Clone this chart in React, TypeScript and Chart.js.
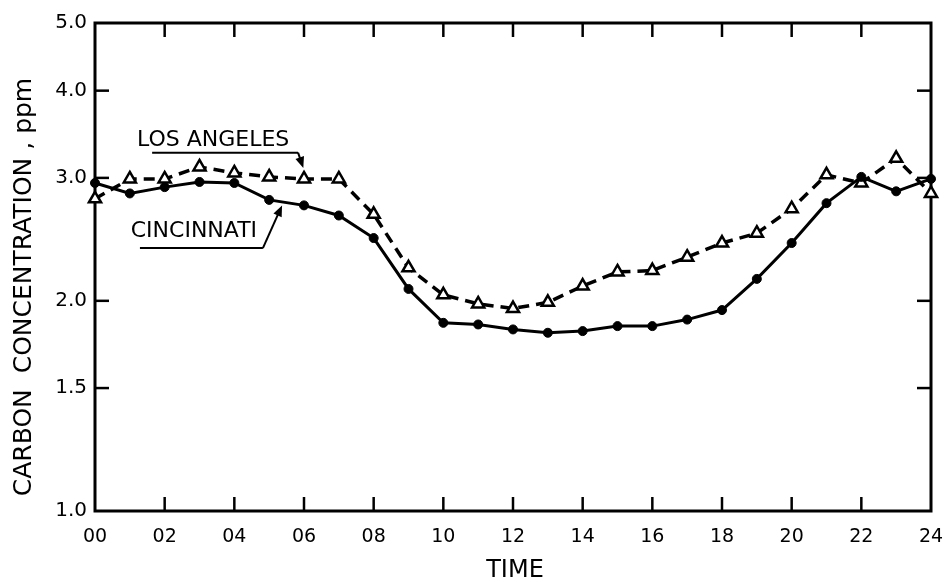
import React, { useEffect, useRef } from 'react';
import { Chart, registerables } from 'chart.js';

Chart.register(...registerables);

const HOURS = [0, 1, 2, 3, 4, 5, 6, 7, 8, 9, 10, 11, 12, 13, 14, 15, 16, 17, 18, 19, 20, 21, 22, 23, 24];
const CINCINNATI = [2.95, 2.85, 2.91, 2.96, 2.95, 2.79, 2.74, 2.65, 2.46, 2.08, 1.86, 1.85, 1.82, 1.8, 1.81, 1.84, 1.84, 1.88, 1.94, 2.15, 2.42, 2.76, 3.01, 2.87, 2.99];
const LOS_ANGELES = [2.8, 2.99, 2.99, 3.11, 3.05, 3.01, 2.99, 2.99, 2.66, 2.23, 2.04, 1.98, 1.95, 1.99, 2.1, 2.2, 2.21, 2.31, 2.42, 2.5, 2.71, 3.03, 2.95, 3.2, 2.85];
const X_TICKS = [0, 2, 4, 6, 8, 10, 12, 14, 16, 18, 20, 22, 24];
const Y_TICKS = [1.0, 1.5, 2.0, 3.0, 4.0, 5.0];

const Y_TITLE = 'CARBON  CONCENTRATION , ppm';
const X_TITLE = 'TIME';

// annotation anchors in data coordinates [hour, value]
const LA_LABEL = { text: 'LOS ANGELES', at: [3.39, 3.33] };
const LA_LEADER = [[1.64, 3.26], [5.83, 3.26], [5.95, 3.16]];
const LA_TIP = [5.98, 3.1];
const CIN_LABEL = { text: 'CINCINNATI', at: [2.84, 2.47] };
const CIN_LEADER = [[1.29, 2.38], [4.82, 2.38]];
const CIN_TIP = [5.37, 2.74];

const FONT = '"DejaVu Sans", sans-serif';

function arrow(ctx: CanvasRenderingContext2D, fx: number, fy: number, tx: number, ty: number) {
  const ang = Math.atan2(ty - fy, tx - fx);
  const len = 11;
  const w = 4.5;
  ctx.beginPath();
  ctx.moveTo(fx, fy);
  ctx.lineTo(tx - Math.cos(ang) * len * 0.8, ty - Math.sin(ang) * len * 0.8);
  ctx.stroke();
  ctx.beginPath();
  ctx.moveTo(tx, ty);
  ctx.lineTo(tx - Math.cos(ang) * len - Math.sin(ang) * w, ty - Math.sin(ang) * len + Math.cos(ang) * w);
  ctx.lineTo(tx - Math.cos(ang) * len + Math.sin(ang) * w, ty - Math.sin(ang) * len - Math.cos(ang) * w);
  ctx.closePath();
  ctx.fill();
}

const framePlugin = {
  id: 'frame',
  beforeDatasetsDraw(chart: any) {
    const { ctx, chartArea: a, scales } = chart;
    ctx.save();
    ctx.strokeStyle = '#000';
    ctx.lineWidth = 3;
    ctx.strokeRect(a.left, a.top, a.right - a.left, a.bottom - a.top);
    ctx.lineWidth = 2.5;
    const TL = 14;
    const seg = (x1: number, y1: number, x2: number, y2: number) => {
      ctx.beginPath();
      ctx.moveTo(x1, y1);
      ctx.lineTo(x2, y2);
      ctx.stroke();
    };
    X_TICKS.slice(1, -1).forEach((v) => {
      const x = scales.x.getPixelForValue(v);
      seg(x, a.top, x, a.top + TL);
      seg(x, a.bottom, x, a.bottom - TL);
    });
    Y_TICKS.slice(1, -1).forEach((v) => {
      const y = scales.y.getPixelForValue(v);
      seg(a.left, y, a.left + TL, y);
      seg(a.right, y, a.right - TL, y);
    });
    ctx.restore();
  },
  afterDraw(chart: any) {
    const { ctx, chartArea: a, scales } = chart;
    const px = (p: number[]) => [scales.x.getPixelForValue(p[0]), scales.y.getPixelForValue(p[1])];
    ctx.save();
    ctx.fillStyle = '#000';
    ctx.strokeStyle = '#000';
    ctx.lineWidth = 2;

    // annotation labels
    ctx.font = `22px ${FONT}`;
    ctx.textAlign = 'center';
    ctx.textBaseline = 'alphabetic';
    for (const lab of [LA_LABEL, CIN_LABEL]) {
      const [x, y] = px(lab.at);
      ctx.fillText(lab.text, x, y);
    }
    // LA leader
    const la = LA_LEADER.map(px);
    ctx.beginPath();
    ctx.moveTo(la[0][0], la[0][1]);
    ctx.lineTo(la[1][0], la[1][1]);
    ctx.stroke();
    const lt = px(LA_TIP);
    arrow(ctx, la[1][0], la[1][1], lt[0], lt[1]);
    // Cincinnati leader
    const cl = CIN_LEADER.map(px);
    ctx.beginPath();
    ctx.moveTo(cl[0][0], cl[0][1]);
    ctx.lineTo(cl[1][0], cl[1][1]);
    ctx.stroke();
    const ct = px(CIN_TIP);
    arrow(ctx, cl[1][0], cl[1][1], ct[0], ct[1]);

    // x title
    ctx.font = `24px ${FONT}`;
    ctx.textAlign = 'center';
    ctx.fillText(X_TITLE, (a.left + a.right) / 2 + 2, 577);

    // y title
    ctx.font = `25px ${FONT}`;
    ctx.translate(31, 287);
    ctx.rotate(-Math.PI / 2);
    ctx.textAlign = 'center';
    ctx.fillText(Y_TITLE, 0, 0);
    ctx.restore();
  },
};

export default function App() {
  const ref = useRef<HTMLCanvasElement | null>(null);
  useEffect(() => {
    if (!ref.current) return;
    const chart = new Chart(ref.current, {
      type: 'line',
      data: {
        datasets: [
          {
            label: 'Cincinnati',
            data: HOURS.map((h, i) => ({ x: h, y: CINCINNATI[i] })),
            borderColor: '#000',
            borderWidth: 3,
            backgroundColor: '#000',
            pointStyle: 'circle',
            pointRadius: 4.5,
            pointBorderWidth: 1,
            pointBorderColor: '#000',
            pointBackgroundColor: '#000',
            tension: 0,
            clip: false,
            order: 1,
          },
          {
            label: 'Los Angeles',
            data: HOURS.map((h, i) => ({ x: h, y: LOS_ANGELES[i] })),
            borderColor: '#000',
            borderWidth: 3.5,
            borderDash: [11, 7],
            pointStyle: 'triangle',
            pointRadius: 7,
            pointBorderWidth: 2.5,
            pointBorderColor: '#000',
            pointBackgroundColor: '#fff',
            tension: 0,
            clip: false,
            order: 2,
          },
        ],
      },
      options: {
        animation: false,
        responsive: true,
        maintainAspectRatio: false,
        layout: { padding: { top: 23, right: 15, left: 0, bottom: 0 } },
        plugins: { legend: { display: false }, tooltip: { enabled: false } },
        scales: {
          x: {
            type: 'linear',
            min: 0,
            max: 24,
            grid: { display: false, drawTicks: false },
            border: { display: false },
            afterBuildTicks: (s: any) => {
              s.ticks = X_TICKS.map((v) => ({ value: v }));
            },
            afterFit: (s: any) => {
              s.height = 71;
              s.paddingRight = 0;
              s.paddingLeft = 0;
            },
            ticks: {
              padding: 15,
              color: '#000',
              font: { family: FONT, size: 19 },
              maxRotation: 0,
              callback: (v: any) => String(v).padStart(2, '0'),
            },
          },
          y: {
            type: 'logarithmic',
            min: 1,
            max: 5,
            grid: { display: false, drawTicks: false },
            border: { display: false },
            afterBuildTicks: (s: any) => {
              s.ticks = Y_TICKS.map((v) => ({ value: v }));
            },
            afterFit: (s: any) => {
              s.width = 95;
            },
            ticks: {
              padding: 8,
              color: '#000',
              font: { family: FONT, size: 20 },
              callback: (v: any) => Number(v).toFixed(1),
            },
          },
        },
      },
      plugins: [framePlugin],
    });
    return () => chart.destroy();
  }, []);
  return (
    <div style={{ position: 'fixed', left: 0, top: 0, width: 946, height: 582, background: '#fff' }}>
      <canvas ref={ref} />
    </div>
  );
}
